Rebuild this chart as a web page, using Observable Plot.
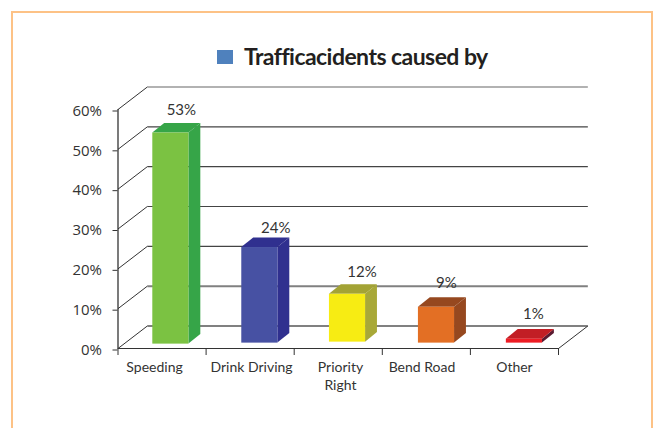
<!DOCTYPE html>
<html>
<head>
<meta charset="utf-8">
<script src="https://cdn.jsdelivr.net/npm/d3@7"></script>
<script src="https://cdn.jsdelivr.net/npm/@observablehq/plot@0.6"></script>
<style>
html,body{margin:0;padding:0;background:#fff;overflow:hidden}
#page{position:relative;width:658px;height:428px;overflow:hidden}
#frame{position:absolute;left:11px;top:11px;width:638px;height:430px;border:2px solid #FDC286;box-sizing:content-box}
#title{position:absolute;left:217px;top:41px;display:flex;align-items:center;height:30px;font:700 23px "Lato",sans-serif;letter-spacing:-0.55px;color:#231F20;white-space:nowrap}
#title i{display:inline-block;width:16px;height:14px;background:#4F81BD;margin-right:11px;margin-top:2px}
#chart{position:absolute;left:0;top:0}
svg{display:block}
</style>
</head>
<body>
<div id="page">
<div id="frame"></div>
<div id="chart"></div>
<div id="title"><i></i><span>Trafficacidents caused by</span></div>
</div>
<script>
const categories = ["Speeding", "Drink Driving", "Priority\nRight", "Bend Road", "Other"];
const values = [53, 24, 12, 9, 1];
const valueLabels = ["53%", "24%", "12%", "9%", "1%"];
const yTicks = [0, 10, 20, 30, 40, 50, 60];
const xTicks = [0, 1, 2, 3, 4, 5];

const frontColors = ["#7BC242", "#4751A3", "#F7EC13", "#E36F24", "#ED1C24"];
const topColors = ["#36A548", "#30308F", "#A3A335", "#96481F", "#C21E25"];
const sideColors = ["#36A548", "#30308F", "#A8A838", "#96481F", "#5A1A30"];

// placement of the pseudo-3D drawing, in scale units
const barBase = [1.1, 1.35, 1.6, 1.35, 1.35];
const barCenter = [0.6, 1.61, 2.605, 3.615, 4.613];
const barWidth = 0.41;
const barDepthX = 0.135, barDepthY = 2.4;
const floorDepthX = 0.333, floorDepthY = 5.65;
const categoryDx = [-7.5, 1.4, 2.2, -4.4, 0];
const labelDx = [10.5, 16, 14.5, 10, 9];
const labelDy = [-23, -19, -22.5, -24, -25];
const gridStroke = ["#808080", "#808080", "#444", "#444", "#444", "#444", "#666"];
const gridWidth = [2, 2, 1.2, 1.2, 1.2, 1.2, 1.2];

const ink = "#333";
const bars = categories.map((c, i) => ({
  c, i,
  x1: barCenter[i] - barWidth / 2,
  x2: barCenter[i] + barWidth / 2,
  base: barBase[i],
  top: barBase[i] + values[i]
}));

const marks = [];
yTicks.forEach((v, i) => {
  marks.push(Plot.link([v], {x1: floorDepthX, y1: d => d + floorDepthY, x2: 5 + floorDepthX, y2: d => d + floorDepthY, stroke: gridStroke[i], strokeWidth: gridWidth[i]}));
});
marks.push(Plot.link(yTicks, {x1: 0, y1: d => d, x2: floorDepthX, y2: d => d + floorDepthY, stroke: "#333", strokeWidth: 1}));
marks.push(Plot.link([0], {x1: 5, y1: 0, x2: 5 + floorDepthX, y2: floorDepthY, stroke: "#333", strokeWidth: 1}));
marks.push(Plot.ruleX([0], {y1: 0, y2: 60, stroke: "#222", strokeWidth: 1.2}));
marks.push(Plot.ruleY([0], {x1: 0, x2: 5, stroke: "#333", strokeWidth: 1.2}));
marks.push(Plot.axisY({ticks: yTicks, tickFormat: d => d + "%", tickSize: 5, tickPadding: 11, stroke: "#333", fill: ink, fontSize: 15, fontFamily: "Open Sans", label: null, dy: 1.5}));
marks.push(Plot.axisX({ticks: xTicks, tickFormat: () => "", tickSize: 7, stroke: "#333", label: null}));

bars.forEach((b, i) => {
  marks.push(Plot.area([
    {x: b.x2, y1: b.base, y2: b.top},
    {x: b.x2 + barDepthX, y1: b.base + barDepthY, y2: b.top + barDepthY}
  ], {x1: "x", x2: "x", y1: "y1", y2: "y2", fill: sideColors[i]}));
  marks.push(Plot.area([
    {x1: b.x1, x2: b.x2, y: b.top},
    {x1: b.x1 + barDepthX, x2: b.x2 + barDepthX, y: b.top + barDepthY}
  ], {x1: "x1", x2: "x2", y1: "y", y2: "y", fill: topColors[i]}));
  marks.push(Plot.rectY([b], {x1: "x1", x2: "x2", y1: "base", y2: "top", fill: frontColors[i], inset: 0}));
  marks.push(Plot.text([valueLabels[i]], {x: barCenter[i], y: b.top, dx: labelDx[i], dy: labelDy[i], text: d => d, fill: ink, fontSize: 15, fontFamily: "Lato"}));
  marks.push(Plot.text([b.c], {x: i + 0.5, y: 0, dx: categoryDx[i], dy: 11, text: d => d, fill: ink, fontSize: 14, fontFamily: "Lato", lineAnchor: "top", textAnchor: "middle", lineHeight: 1.28}));
});

const chart = Plot.plot({
  width: 658,
  height: 428,
  marginLeft: 117.5,
  marginRight: 100,
  marginTop: 109,
  marginBottom: 80,
  style: {background: "transparent", overflow: "visible"},
  x: {domain: [0, 5]},
  y: {domain: [0, 60]},
  marks
});
document.getElementById("chart").append(chart);
</script>
</body>
</html>
